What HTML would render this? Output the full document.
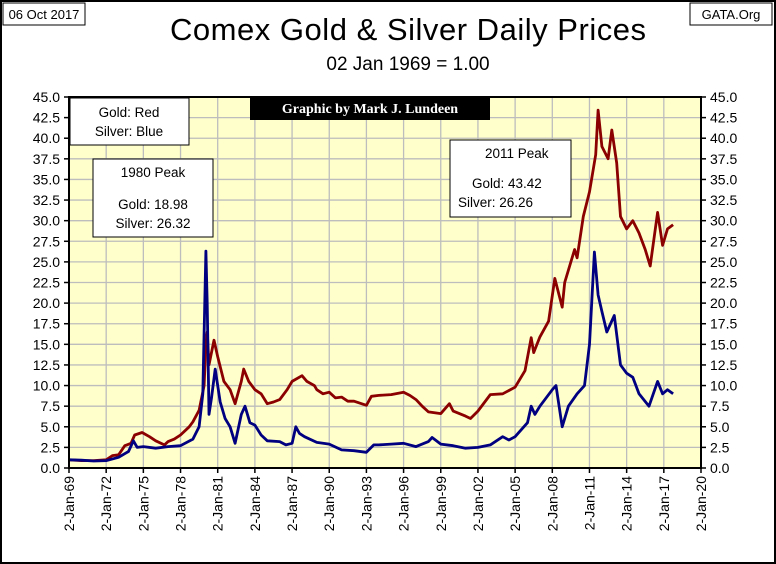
<!DOCTYPE html>
<html><head><meta charset="utf-8"><style>
body{margin:0;background:#fff;}
#wrap{position:relative;width:776px;height:564px;overflow:hidden;font-family:"Liberation Sans",sans-serif;}
</style></head><body>
<div id="wrap">
<svg width="776" height="564" style="position:absolute;left:0;top:0" id="svg">
<rect x="1" y="1" width="774" height="562" fill="#fff" stroke="#000" stroke-width="2"/>
<rect x="3" y="3" width="82" height="22" fill="#fff" stroke="#000"/>
<text x="44" y="19" font-size="13" text-anchor="middle">06 Oct 2017</text>
<rect x="690" y="3" width="82" height="22" fill="#fff" stroke="#000"/>
<text x="731" y="19" font-size="13" text-anchor="middle">GATA.Org</text>
<text x="408" y="40" font-size="31" text-anchor="middle" textLength="476">Comex Gold &amp; Silver Daily Prices</text>
<text x="408" y="70" font-size="19" text-anchor="middle">02 Jan 1969 = 1.00</text>
<rect x="69" y="97" width="632" height="371" fill="#ffffcc"/>
<g id="grid"></g><g id="axes"></g><g id="series"></g>
<rect x="69" y="97" width="632" height="371" fill="none" stroke="#000" stroke-width="2"/>
<rect x="250" y="97" width="240" height="23" fill="#000"/>
<text x="370" y="113" font-size="14" font-weight="bold" fill="#fff" text-anchor="middle" font-family="Liberation Serif,serif">Graphic by Mark J. Lundeen</text>
<rect x="70" y="98" width="119" height="47" fill="#fff" stroke="#000"/>
<text x="129" y="117" font-size="13.5" text-anchor="middle">Gold: Red</text>
<text x="129" y="136" font-size="13.5" text-anchor="middle">Silver: Blue</text>
<rect x="93" y="159" width="120" height="78" fill="#fff" stroke="#000"/>
<text x="153" y="177" font-size="13.5" text-anchor="middle">1980 Peak</text>
<text x="153" y="209" font-size="13.5" text-anchor="middle">Gold:  18.98</text>
<text x="153" y="228" font-size="13.5" text-anchor="middle">Silver: 26.32</text>
<rect x="450" y="140" width="121" height="77" fill="#fff" stroke="#000"/>
<text x="485" y="158" font-size="13.5" text-anchor="start">2011 Peak</text>
<text x="472" y="188" font-size="13.5">Gold:  43.42</text>
<text x="458" y="207" font-size="13.5">Silver: 26.26</text>
</svg>
</div>
<script>
const goldYears=[1969,1970,1971,1972,1972.5,1973,1973.5,1974,1974.3,1974.9,1975.5,1976,1976.7,1977,1977.5,1978,1978.7,1979,1979.5,1979.9,1980.05,1980.15,1980.3,1980.7,1981,1981.5,1982,1982.4,1982.9,1983.1,1983.5,1984,1984.5,1985,1985.5,1986,1986.6,1987,1987.8,1988.2,1988.8,1989,1989.5,1990,1990.5,1991,1991.5,1992,1992.6,1993,1993.4,1994,1995,1996,1996.5,1997,1997.5,1998,1999,1999.7,2000,2001,2001.4,2002,2003,2004,2005,2005.8,2006.3,2006.5,2007,2007.7,2008.2,2008.8,2009,2009.8,2010,2010.5,2011,2011.5,2011.7,2012,2012.5,2012.8,2013.2,2013.5,2014,2014.5,2015,2015.5,2015.9,2016.5,2016.9,2017.3,2017.75];
const goldValues=[1.0,0.9,0.9,1.0,1.5,1.6,2.7,3.0,4.0,4.3,3.8,3.3,2.8,3.2,3.5,4.0,5.0,5.6,7.0,10.0,15.0,16.5,12.5,15.5,13.5,10.5,9.5,7.8,10.5,12.0,10.5,9.5,9.0,7.8,8.0,8.3,9.5,10.5,11.2,10.5,10.0,9.5,9.0,9.2,8.5,8.6,8.1,8.1,7.8,7.6,8.7,8.8,8.9,9.2,8.8,8.3,7.5,6.8,6.6,7.8,6.9,6.3,6.0,6.9,8.9,9.0,9.8,11.8,15.8,14.0,15.9,17.8,23.0,19.5,22.5,26.5,25.5,30.5,33.5,38.0,43.4,39.0,37.5,41.0,37.0,30.5,29.0,30.0,28.5,26.5,24.5,31.0,27.0,29.0,29.5];
const silverYears=[1969,1970,1971,1972,1973,1973.8,1974.2,1974.5,1975,1976,1977,1978,1979,1979.5,1979.8,1980.05,1980.15,1980.3,1980.5,1980.8,1981.2,1981.6,1982,1982.4,1982.9,1983.2,1983.6,1984,1984.5,1985,1986,1986.5,1987,1987.3,1987.6,1988,1989,1990,1991,1992,1993,1993.6,1994,1995,1996,1997,1998,1998.3,1999,2000,2001,2002,2003,2004,2004.5,2005,2006,2006.3,2006.6,2007,2008,2008.3,2008.8,2009.3,2010,2010.6,2011,2011.4,2011.7,2012,2012.4,2013,2013.5,2014,2014.5,2015,2015.8,2016.5,2016.9,2017.3,2017.75];
const silverValues=[1.0,0.95,0.85,0.9,1.3,2.0,3.3,2.5,2.6,2.4,2.6,2.7,3.5,5.0,9.0,26.3,20.0,6.5,8.5,12.0,8.0,6.0,5.0,3.0,6.5,7.5,5.5,5.2,4.0,3.3,3.2,2.8,3.0,5.0,4.2,3.8,3.1,2.9,2.2,2.1,1.9,2.8,2.8,2.9,3.0,2.6,3.2,3.7,2.9,2.7,2.4,2.5,2.8,3.8,3.4,3.8,5.5,7.5,6.5,7.5,9.5,10.0,5.0,7.5,9.0,10.0,15.0,26.2,21.0,19.0,16.5,18.5,12.5,11.5,11.0,9.0,7.5,10.5,9.0,9.5,9.0];
const yTicks=[0,2.5,5,7.5,10,12.5,15,17.5,20,22.5,25,27.5,30,32.5,35,37.5,40,42.5,45];
const xTickYears=[1969,1972,1975,1978,1981,1984,1987,1990,1993,1996,1999,2002,2005,2008,2011,2014,2017,2020];
const xTickLabels=['2-Jan-69','2-Jan-72','2-Jan-75','2-Jan-78','2-Jan-81','2-Jan-84','2-Jan-87','2-Jan-90','2-Jan-93','2-Jan-96','2-Jan-99','2-Jan-02','2-Jan-05','2-Jan-08','2-Jan-11','2-Jan-14','2-Jan-17','2-Jan-20'];

const L=69,R=701,T=97,B=468;
const xs=y=>L+(y-1969)/(2020-1969)*(R-L);
const ys=v=>B-v/45*(B-T);
const NS='http://www.w3.org/2000/svg';
const grid=document.getElementById('grid'),axes=document.getElementById('axes'),ser=document.getElementById('series');
function mk(tag,attrs,parent){const e=document.createElementNS(NS,tag);for(const k in attrs)e.setAttribute(k,attrs[k]);parent.appendChild(e);return e;}
yTicks.forEach(v=>{
  const y=ys(v);
  const g=mk('line',{x1:L,x2:R,y1:y,y2:y,stroke:'#bdbdbd','stroke-width':1.3},grid);
  
  
  const t1=mk('line',{x1:L-5,x2:L,y1:y,y2:y,stroke:'#000','stroke-width':1.5},axes);
  
  
  const t2=mk('line',{x1:R,x2:R+5,y1:y,y2:y,stroke:'#000','stroke-width':1.5},axes);
  
  
  const a=mk('text',{x:L-9,y:y+5,'font-size':14,'text-anchor':'end'},axes);a.textContent=v.toFixed(1);
  
  
  const b=mk('text',{x:R+9,y:y+5,'font-size':14},axes);b.textContent=v.toFixed(1);
  
  
});
xTickYears.forEach((yr,i)=>{
  const x=xs(yr);
  const g=mk('line',{x1:x,x2:x,y1:T,y2:B,stroke:'#bdbdbd','stroke-width':1.3},grid);
  
  
  const t=mk('line',{x1:x,x2:x,y1:B,y2:B+5,stroke:'#000','stroke-width':1.5},axes);
  
  
  const lb=mk('text',{x:0,y:0,'font-size':14,'text-anchor':'end',transform:`translate(${x+5},${B+8}) rotate(-90)`},axes);
  lb.textContent=xTickLabels[i];
  
  
});
function line(years,vals,color,name){
  const d=years.map((y,i)=>(i?'L':'M')+xs(y).toFixed(1)+','+ys(vals[i]).toFixed(1)).join('');
  const p=mk('path',{d:d,fill:'none',stroke:color,'stroke-width':2.8,'stroke-linejoin':'round'},ser);
  
  
}
line(goldYears,goldValues,'#8b0000','gold-series');
line(silverYears,silverValues,'#000080','silver-series');
</script>
</body></html>
